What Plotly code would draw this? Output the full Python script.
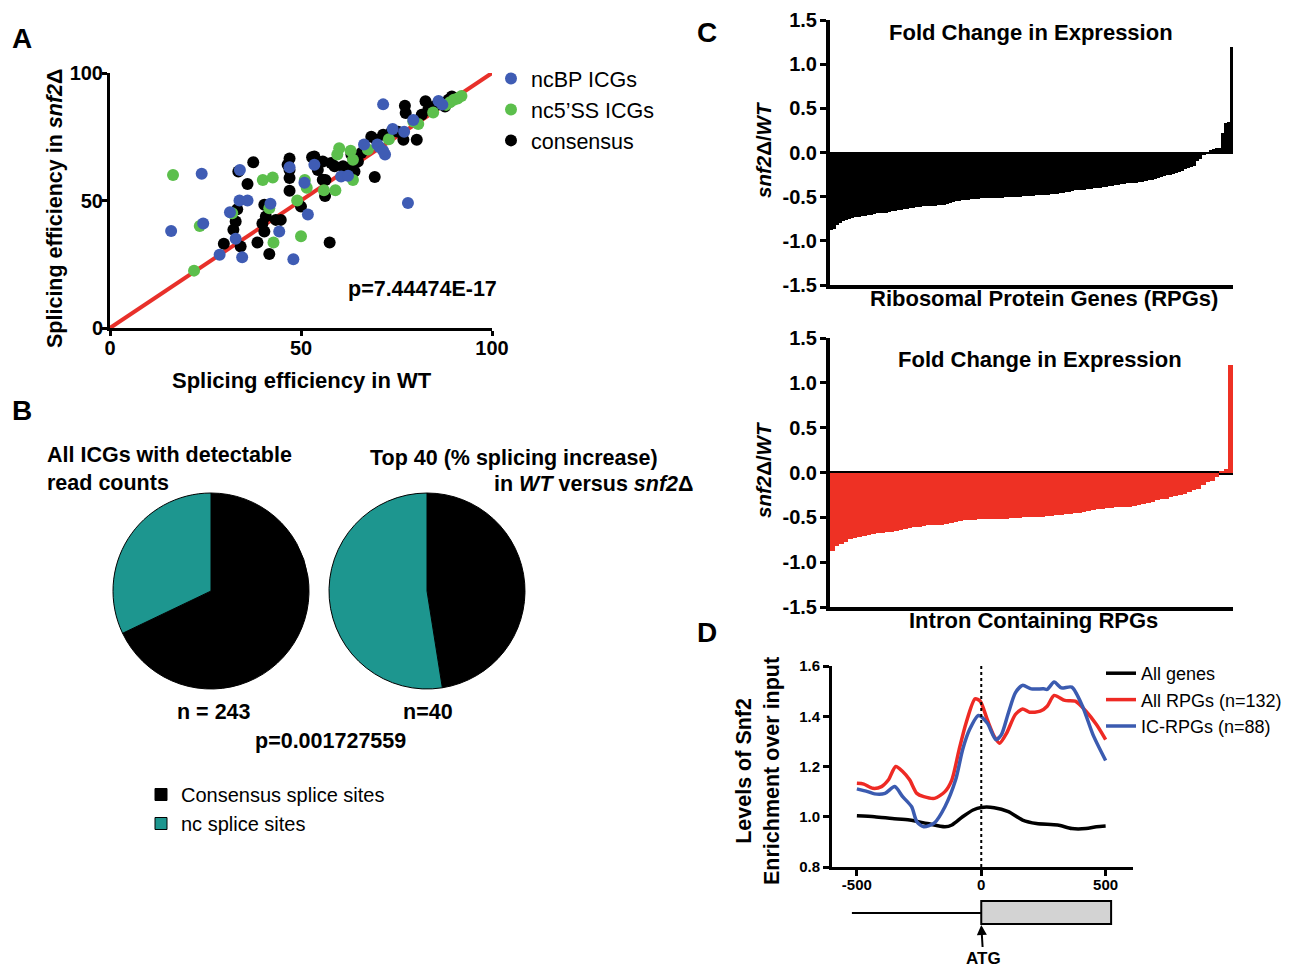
import plotly.graph_objects as go

W, H = 1292, 967
OFF = 8  # the page body has an 8px margin; place everything relative to the viewport
FONT = "Liberation Sans, Arial, Helvetica, sans-serif"

# ---------------- Panel A data ----------------
ncbp_x = [16, 24, 24.4, 34, 33.9, 36, 31.4, 32.9, 34.6, 28.7, 42, 44.3, 47, 48, 50.9, 51.8, 53.5,
          60.5, 62.3, 66.5, 70, 71.5, 72, 74, 77, 78, 79.4, 86, 87, 70.5, 71.5]
ncbp_y = [38, 60.5, 41, 62, 50, 50, 45.4, 35, 27.7, 28.7, 48.7, 37.8, 63, 27, 57, 44.5, 64,
          59.4, 59.7, 72, 72, 87.7, 68, 78, 77, 49, 81.6, 89, 87.6, 71, 69.5]
nc5_x = [16.5, 22, 23.5, 32, 40, 42.6, 42.8, 41.7, 49, 50, 51.5, 51, 56, 59, 60, 59.5, 63, 63.6,
         63.6, 67.5, 73, 79.4, 80.7, 84.6, 88, 89, 90, 91, 92]
nc5_y = [60, 22.5, 40, 45, 58, 59, 33.5, 47, 50, 36, 55, 58, 54, 54, 70.5, 68, 69.5, 66,
         58, 70, 74, 81, 80, 84.5, 87.5, 88.5, 89.5, 90, 91]
cons_x = [37.5, 33.6, 36, 47, 47, 47, 47, 50, 40.4, 40.8, 39.9, 43.4, 44.7, 40.4, 32.3, 32.9, 29.8,
          38.6, 34.2, 41.7, 57.5, 33.3, 52.9, 55.7, 56.4, 56.3, 58.8, 61, 64, 65.8, 68.4, 69.7,
          73.7, 76.8, 80.3, 69.3, 77.2, 77.4, 82.6, 83.3, 81.6, 89.5, 87.7, 64, 62.3, 64.9, 57.9,
          63.2, 66.7, 71.5, 75.4, 85, 88.6, 46.5, 54.4, 55.7, 53.5]
cons_y = [65, 61.4, 56.5, 66.5, 62, 58.8, 53.8, 47.6, 48.3, 43.7, 41, 42.4, 42.4, 37.8, 38.5, 41.8, 33,
          33.5, 32, 29, 33.5, 46.6, 67, 65.3, 58, 51.8, 63.4, 63.4, 66, 68.6, 75, 73.8,
          77, 73.8, 73.8, 59.2, 87.2, 84.3, 88.9, 85.6, 83.6, 90.8, 86.9, 61.4, 62.7, 65.3, 64.7,
          68, 70.5, 75.8, 77, 87, 89.5, 64, 62, 58.1, 67.3]
diag = [0, 100]

# ---------------- Panel B data ----------------
site_labels = ["Consensus splice sites", "nc splice sites"]
all_icg_counts = [165, 78]
top40_counts = [19, 21]

# ---------------- Panel C data ----------------
rpg_fc = [-0.88, -0.87, -0.82, -0.80, -0.78, -0.76, -0.75, -0.74,
          -0.73, -0.73, -0.72, -0.72, -0.71, -0.71,
          -0.70, -0.69, -0.69, -0.68, -0.68, -0.67,
          -0.66, -0.66, -0.65, -0.65, -0.64, -0.64, -0.63, -0.63, -0.62, -0.62,
          -0.61, -0.61, -0.60, -0.60, -0.60, -0.59, -0.59, -0.59, -0.58, -0.57,
          -0.56, -0.55, -0.55, -0.54, -0.54, -0.54, -0.53, -0.53, -0.53, -0.52,
          -0.52, -0.52, -0.51, -0.51, -0.51, -0.51, -0.51, -0.50, -0.50, -0.50,
          -0.50, -0.50, -0.50, -0.49, -0.49, -0.49, -0.49, -0.48, -0.48, -0.48,
          -0.48, -0.48, -0.47, -0.47, -0.47, -0.46, -0.46, -0.45, -0.45, -0.44,
          -0.43, -0.43, -0.42, -0.42, -0.41, -0.41, -0.40, -0.40, -0.40, -0.39,
          -0.39, -0.38, -0.38, -0.37, -0.37, -0.36, -0.36, -0.35, -0.35, -0.34,
          -0.34, -0.33, -0.33, -0.32, -0.31, -0.31, -0.30, -0.29, -0.28, -0.27,
          -0.26, -0.25, -0.24, -0.23, -0.22, -0.21, -0.19, -0.18, -0.16, -0.15,
          -0.10, -0.07, -0.03, -0.01, 0.03, 0.04, 0.05, 0.05, 0.22, 0.33, 0.34, 1.20]
ic_rpg_fc = [-0.87, -0.82, -0.80, -0.77, -0.74, -0.73, -0.72, -0.71, -0.70, -0.69,
             -0.68, -0.67, -0.66, -0.66, -0.65, -0.64, -0.63, -0.62, -0.61, -0.61,
             -0.60, -0.59, -0.59, -0.58, -0.58, -0.57, -0.56, -0.55, -0.54, -0.53,
             -0.53, -0.53, -0.52, -0.52, -0.52, -0.52, -0.52, -0.52, -0.52, -0.51,
             -0.51, -0.51, -0.50, -0.50, -0.50, -0.50, -0.50, -0.49, -0.48, -0.47,
             -0.47, -0.46, -0.46, -0.45, -0.45, -0.44, -0.43, -0.42, -0.41, -0.41,
             -0.40, -0.40, -0.39, -0.39, -0.38, -0.38, -0.37, -0.36, -0.35, -0.34,
             -0.33, -0.31, -0.30, -0.29, -0.27, -0.26, -0.25, -0.24, -0.22, -0.20,
             -0.18, -0.14, -0.11, -0.09, -0.05, 0.02, 0.04, 1.20]
rpg_idx = list(range(len(rpg_fc)))
ic_idx = list(range(len(ic_rpg_fc)))

# ---------------- Panel D data ----------------
all_x = [-500, -429, -358, -288, -217, -146, -118, -75, -33, 0, 52, 109, 166, 222, 307, 364, 421, 463, 500]
all_y = [1.004, 1.0, 0.993, 0.987, 0.973, 0.96, 0.967, 1.0, 1.027, 1.037, 1.036, 1.02, 0.987, 0.973,
         0.967, 0.953, 0.953, 0.96, 0.963]
rpg_x = [-500, -472, -436, -401, -373, -344, -316, -288, -259, -231, -188, -146, -118, -89, -61, -25, -4,
         24, 52, 74, 102, 137, 166, 194, 237, 265, 293, 336, 378, 421, 463, 500]
rpg_y = [1.133, 1.13, 1.113, 1.12, 1.147, 1.2, 1.18, 1.147, 1.093, 1.08, 1.073, 1.1, 1.147, 1.267, 1.373,
         1.469, 1.46, 1.387, 1.32, 1.293, 1.333, 1.407, 1.429, 1.416, 1.42, 1.44, 1.483, 1.463, 1.46,
         1.42, 1.367, 1.307]
ic_x = [-500, -457, -429, -387, -348, -316, -280, -259, -231, -188, -146, -103, -75, -47, -11, 24, 59, 81,
        109, 137, 166, 201, 251, 265, 293, 322, 364, 407, 449, 500]
ic_y = [1.111, 1.1, 1.091, 1.093, 1.12, 1.08, 1.04, 0.98, 0.96, 0.976, 1.04, 1.147, 1.267, 1.347, 1.403,
        1.373, 1.307, 1.327, 1.413, 1.493, 1.523, 1.509, 1.509, 1.507, 1.536, 1.513, 1.516, 1.44, 1.327,
        1.224]

c_ticks = [-1.5, -1.0, -0.5, 0.0, 0.5, 1.0, 1.5]
c_ticktext = ["-1.5", "-1.0", "-0.5", "0.0", "0.5", "1.0", "1.5"]
d_yticks = [0.8, 1.0, 1.2, 1.4, 1.6]
d_yticktext = ["0.8", "1.0", "1.2", "1.4", "1.6"]
d_xticks = [-500, 0, 500]
d_xticktext = ["-500", "0", "500"]


def px(x):
    return (x - OFF) / W


def py(y):
    return 1 - (y - OFF) / H


BLUE = "#3f5cb4"
GREEN = "#5cbf4c"
RED = "#e8302a"
TEAL = "#1d968f"

fig = go.Figure()

# ---- A ----
fig.add_trace(go.Scatter(x=diag, y=diag, mode="lines", line=dict(color=RED, width=4),
                         showlegend=False, xaxis="x", yaxis="y"))
fig.add_trace(go.Scatter(x=cons_x, y=cons_y, mode="markers", name="consensus",
                         marker=dict(color="black", size=12), legend="legend", legendrank=3,
                         xaxis="x", yaxis="y", cliponaxis=False))
fig.add_trace(go.Scatter(x=nc5_x, y=nc5_y, mode="markers", name="nc5\u2019SS ICGs",
                         marker=dict(color=GREEN, size=12), legend="legend", legendrank=2,
                         xaxis="x", yaxis="y", cliponaxis=False))
fig.add_trace(go.Scatter(x=ncbp_x, y=ncbp_y, mode="markers", name="ncBP ICGs",
                         marker=dict(color=BLUE, size=12), legend="legend", legendrank=1,
                         xaxis="x", yaxis="y", cliponaxis=False))

# ---- B ----
pie_common = dict(labels=site_labels, sort=False, direction="clockwise", rotation=0,
                  textinfo="none", marker=dict(colors=["#000000", TEAL], line=dict(color="black", width=1)),
                  legend="legend2", hoverinfo="label+value")
fig.add_trace(go.Pie(values=all_icg_counts, domain=dict(x=[px(113), px(309)], y=[py(690), py(492)]),
                     **pie_common))
fig.add_trace(go.Pie(values=top40_counts, domain=dict(x=[px(329), px(525)], y=[py(690), py(492)]),
                     showlegend=False, **pie_common))

# ---- C ----
fig.add_trace(go.Bar(x=rpg_idx, y=rpg_fc, marker=dict(color="black", line=dict(width=0)),
                     showlegend=False, xaxis="x2", yaxis="y2"))
fig.add_trace(go.Bar(x=ic_idx, y=ic_rpg_fc, marker=dict(color="#ee3124", line=dict(width=0)),
                     showlegend=False, xaxis="x3", yaxis="y3"))

# ---- D ----
fig.add_trace(go.Scatter(x=all_x, y=all_y, mode="lines", name="All genes",
                         line=dict(color="black", width=3.5, shape="spline", smoothing=0.7),
                         legend="legend3", xaxis="x4", yaxis="y4"))
fig.add_trace(go.Scatter(x=rpg_x, y=rpg_y, mode="lines", name="All RPGs (n=132)",
                         line=dict(color="#ee2a24", width=3.5, shape="spline", smoothing=0.7),
                         legend="legend3", xaxis="x4", yaxis="y4"))
fig.add_trace(go.Scatter(x=ic_x, y=ic_y, mode="lines", name="IC-RPGs (n=88)",
                         line=dict(color="#3b5bb0", width=3.5, shape="spline", smoothing=0.7),
                         legend="legend3", xaxis="x4", yaxis="y4"))

bold = lambda s: dict(family=FONT, size=s, color="black", weight="bold")

axis_common = dict(showline=True, linecolor="black", showgrid=False, zeroline=False,
                   ticks="outside", tickcolor="black", automargin=False)

layout = dict(
    template="none",
    width=W, height=H, margin=dict(l=0, r=0, t=0, b=0, pad=0, autoexpand=False),
    paper_bgcolor="white", plot_bgcolor="white",
    font=dict(family=FONT, color="black"),
    bargap=0,
    xaxis=dict(domain=[px(110), px(492)], range=[0, 100], tickvals=[0, 50, 100],
               linewidth=3, tickwidth=3, ticklen=5, tickfont=bold(20), anchor="y",
               ticklabelstandoff=-5, **axis_common),
    yaxis=dict(domain=[py(328), py(73)], range=[0, 100], tickvals=[0, 50, 100],
               linewidth=3, tickwidth=3, ticklen=5, tickfont=bold(20), anchor="x",
               ticklabelstandoff=-5, **axis_common),
    xaxis2=dict(domain=[px(830), px(1233)], range=[-0.5, len(rpg_fc) - 0.5], showline=True,
                linecolor="black", linewidth=4, showticklabels=False, ticks="", showgrid=False,
                zeroline=False, anchor="y2", automargin=False),
    yaxis2=dict(domain=[py(285), py(20)], range=[-1.5, 1.5], tickvals=c_ticks, ticktext=c_ticktext,
                linewidth=4, tickwidth=3, ticklen=6, tickfont=bold(20), anchor="x2",
                showline=True, linecolor="black", showgrid=False, ticks="outside", tickcolor="black",
                zeroline=True, zerolinecolor="black", zerolinewidth=2, automargin=False,
                ticklabeloverflow="allow", ticklabelstandoff=-1),
    xaxis3=dict(domain=[px(830), px(1233)], range=[-0.5, len(ic_rpg_fc) - 0.5], showline=True,
                linecolor="black", linewidth=4, showticklabels=False, ticks="", showgrid=False,
                zeroline=False, anchor="y3", automargin=False),
    yaxis3=dict(domain=[py(607), py(338)], range=[-1.5, 1.5], tickvals=c_ticks, ticktext=c_ticktext,
                linewidth=4, tickwidth=3, ticklen=6, tickfont=bold(20), anchor="x3",
                showline=True, linecolor="black", showgrid=False, ticks="outside", tickcolor="black",
                zeroline=True, zerolinecolor="black", zerolinewidth=4, automargin=False,
                ticklabeloverflow="allow", ticklabelstandoff=-1),
    xaxis4=dict(domain=[px(832), px(1133)], range=[-600, 610], tickvals=d_xticks, ticktext=d_xticktext,
                linewidth=3, tickwidth=3, ticklen=6, tickfont=bold(15), anchor="y4",
                ticklabelstandoff=-4, **axis_common),
    yaxis4=dict(domain=[py(867), py(666)], range=[0.8, 1.6], tickvals=d_yticks, ticktext=d_yticktext,
                linewidth=3, tickwidth=3, ticklen=6, tickfont=bold(15), anchor="x4", **axis_common),
    legend=dict(x=px(491), y=py(58), xanchor="left", yanchor="top", bgcolor="rgba(0,0,0,0)",
                font=dict(family=FONT, size=21.5, color="black"), traceorder="normal",
                itemsizing="constant", tracegroupgap=0),
    legend2=dict(x=px(141), y=py(775), xanchor="left", yanchor="top", bgcolor="rgba(0,0,0,0)",
                 font=dict(family=FONT, size=20, color="black"), traceorder="normal"),
    legend3=dict(x=px(1101), y=py(655), xanchor="left", yanchor="top", bgcolor="rgba(0,0,0,0)",
                 font=dict(family=FONT, size=18, color="black"), traceorder="normal", itemwidth=30),
)
fig.update_layout(**layout)


def ann(text, x, y, size, xanchor="center", yanchor="middle", angle=0, weight="bold", align="center"):
    fig.add_annotation(text=text, x=px(x), y=py(y), xref="paper", yref="paper", showarrow=False,
                       xanchor=xanchor, yanchor=yanchor, textangle=angle, align=align,
                       font=dict(family=FONT, size=size, color="black", weight=weight))


# panel letters
ann("A", 22, 38, 28)
ann("B", 22, 410, 28)
ann("C", 707, 32, 28)
ann("D", 707, 632, 28)

# A texts
ann("Splicing efficiency in <i>snf2</i>\u0394", 55, 208, 21.5, angle=-90)
ann("Splicing efficiency in WT", 302, 380, 22)
ann("p=7.44474E-17", 422, 289, 21.5)

# B texts
ann("All ICGs with detectable<br>read counts", 45, 469, 21.5, xanchor="left", align="left")
ann("Top 40 (% splicing increase)", 368, 458, 21.5, xanchor="left")
ann("in <i>WT</i> versus <i>snf2</i>\u0394", 695, 484, 21.5, xanchor="right")
ann("n = 243", 214, 712, 21.5)
ann("n=40", 428, 712, 21.5)
ann("p=0.001727559", 330, 741, 21.5)

# C texts
ann("Fold Change in Expression", 1031, 32, 22)
ann("Fold Change in Expression", 1040, 359, 22)
ann("<i>snf2</i>\u0394/<i>WT</i>", 764, 150, 20.5, angle=-90)
ann("<i>snf2</i>\u0394/<i>WT</i>", 764, 470, 20.5, angle=-90)
ann("Ribosomal Protein Genes (RPGs)", 1044, 299, 22)
ann("Intron Containing RPGs", 1033, 620, 22)

# D texts
ann("Levels of Snf2<br>Enrichment over input", 758, 771, 21.5, angle=-90)

# D gene diagram and ATG marker
fig.add_shape(type="line", xref="x4", yref="y4 domain", x0=0, x1=0, y0=0, y1=1.01,
              line=dict(color="black", width=2, dash="dot"))
fig.add_shape(type="line", xref="x4", yref="paper", x0=-520, x1=0, y0=py(913), y1=py(913),
              line=dict(color="black", width=2))
fig.add_shape(type="rect", xref="x4", yref="paper", x0=0, x1=522, y0=py(924), y1=py(901),
              fillcolor="#d3d3d3", line=dict(color="black", width=2))
fig.add_annotation(text="ATG", x=0, xref="x4", y=py(925), yref="paper", showarrow=True,
                   arrowhead=2, arrowsize=1, arrowwidth=2, arrowcolor="black", ax=2, ay=33,
                   font=dict(family=FONT, size=17, color="black", weight="bold"))

fig.write_html("out.html")
